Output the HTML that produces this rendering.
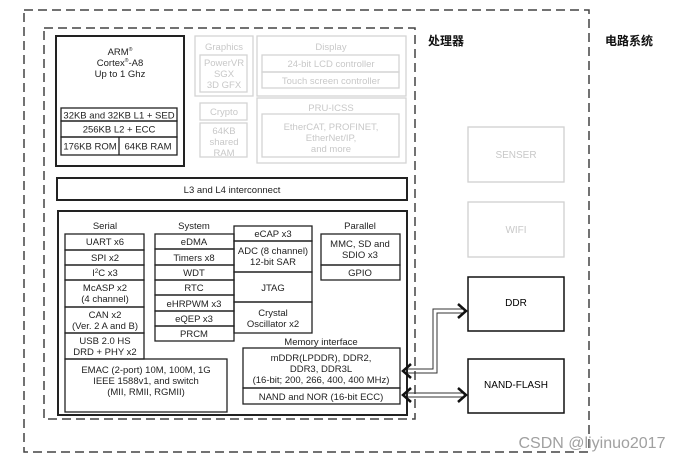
<!DOCTYPE html>
<html><head><meta charset="utf-8"><style>
html,body{margin:0;padding:0;background:#fff;width:692px;height:462px;overflow:hidden}
svg{display:block}
text{font-family:"Liberation Sans",Arial,sans-serif;font-size:9.5px;fill:#222;text-anchor:middle}
.g{fill:#c8c8c8}
.cn{font-family:"Liberation Sans","Noto Sans CJK SC",sans-serif;font-weight:bold;font-size:12px;text-anchor:start;fill:#111}
</style></head><body>
<svg width="692" height="462" viewBox="0 0 692 462" xmlns="http://www.w3.org/2000/svg">
<g fill="none" stroke="#444" stroke-width="1.5" stroke-dasharray="9,5">
<rect x="24" y="10" width="565" height="442"/>
<rect x="44" y="28" width="371" height="391"/>
</g>
<text class="cn" x="428" y="45">处理器</text>
<text class="cn" x="605" y="45">电路系统</text>

<g fill="none" stroke="#222" stroke-width="2">
<rect x="56" y="36" width="128" height="130"/>
<rect x="57" y="178" width="350" height="22"/>
<rect x="58" y="211" width="349" height="204"/>
</g>
<text x="120" y="55">ARM<tspan font-size="5" dy="-4">®</tspan></text>
<text x="120" y="66">Cortex<tspan font-size="5" dy="-4">®</tspan><tspan dy="4">-A8</tspan></text>
<text x="120" y="77">Up to 1 Ghz</text>
<g fill="none" stroke="#222" stroke-width="1.3">
<rect x="61" y="108" width="116" height="13"/>
<rect x="61" y="121" width="116" height="16"/>
<rect x="61" y="137" width="116" height="18"/>
<line x1="119" y1="137" x2="119" y2="155"/>
</g>
<text x="119" y="118.5">32KB and 32KB L1 + SED</text>
<text x="119" y="132.5">256KB L2  + ECC</text>
<text x="90" y="149.5">176KB ROM</text>
<text x="148" y="149.5">64KB RAM</text>

<g fill="none" stroke="#d4d4d4" stroke-width="1.3">
<rect x="195" y="36" width="58" height="60"/>
<rect x="200" y="55" width="47" height="37"/>
<rect x="257" y="36" width="149" height="60"/>
<rect x="262" y="55" width="137" height="17"/>
<rect x="262" y="72" width="137" height="16"/>
<rect x="200" y="103" width="47" height="17"/>
<rect x="200" y="123" width="47" height="34"/>
<rect x="257" y="98" width="149" height="65"/>
<rect x="262" y="114" width="137" height="43"/>
</g>
<g class="g">
<text class="g" x="224" y="50">Graphics</text>
<text class="g" x="224" y="66">PowerVR</text>
<text class="g" x="224" y="77">SGX</text>
<text class="g" x="224" y="88">3D GFX</text>
<text class="g" x="331" y="50">Display</text>
<text class="g" x="331" y="67">24-bit LCD controller</text>
<text class="g" x="331" y="84">Touch screen controller</text>
<text class="g" x="224" y="115">Crypto</text>
<text class="g" x="224" y="134">64KB</text>
<text class="g" x="224" y="145">shared</text>
<text class="g" x="224" y="156">RAM</text>
<text class="g" x="331" y="111">PRU-ICSS</text>
<text class="g" x="331" y="130">EtherCAT, PROFINET,</text>
<text class="g" x="331" y="141">EtherNet/IP,</text>
<text class="g" x="331" y="152">and more</text>
</g>
<text x="232" y="193">L3 and L4 interconnect</text>

<text x="105" y="229">Serial</text>
<text x="194" y="229">System</text>
<text x="360" y="229">Parallel</text>
<text x="321" y="345">Memory interface</text>
<g fill="none" stroke="#222" stroke-width="1.3">
<rect x="65" y="234" width="79" height="16"/>
<rect x="65" y="250" width="79" height="15"/>
<rect x="65" y="265" width="79" height="15"/>
<rect x="65" y="280" width="79" height="27"/>
<rect x="65" y="307" width="79" height="26"/>
<rect x="65" y="333" width="79" height="26"/>
<rect x="65" y="359" width="162" height="53"/>
<rect x="155" y="234" width="79" height="15"/>
<rect x="155" y="249" width="79" height="16"/>
<rect x="155" y="265" width="79" height="15"/>
<rect x="155" y="280" width="79" height="15"/>
<rect x="155" y="295" width="79" height="16"/>
<rect x="155" y="311" width="79" height="15"/>
<rect x="155" y="326" width="79" height="15"/>
<rect x="234" y="226" width="78" height="15"/>
<rect x="234" y="241" width="78" height="31"/>
<rect x="234" y="272" width="78" height="30"/>
<rect x="234" y="302" width="78" height="31"/>
<rect x="321" y="234" width="79" height="31"/>
<rect x="321" y="265" width="79" height="15"/>
<rect x="243" y="348" width="157" height="40"/>
<rect x="243" y="388" width="157" height="16"/>
</g>
<text x="105" y="245">UART x6</text>
<text x="105" y="261">SPI x2</text>
<text x="105" y="276">I<tspan font-size="6" dy="-3">2</tspan><tspan dy="3">C x3</tspan></text>
<text x="105" y="291">McASP x2</text>
<text x="105" y="302">(4 channel)</text>
<text x="105" y="318">CAN x2</text>
<text x="105" y="329">(Ver. 2 A and B)</text>
<text x="105" y="344">USB 2.0 HS</text>
<text x="105" y="355">DRD + PHY x2</text>
<text x="146" y="373">EMAC (2-port) 10M, 100M, 1G</text>
<text x="146" y="384">IEEE 1588v1, and switch</text>
<text x="146" y="395">(MII, RMII, RGMII)</text>
<text x="194" y="245">eDMA</text>
<text x="194" y="261">Timers x8</text>
<text x="194" y="276">WDT</text>
<text x="194" y="291">RTC</text>
<text x="194" y="307">eHRPWM x3</text>
<text x="194" y="322">eQEP x3</text>
<text x="194" y="337">PRCM</text>
<text x="273" y="237">eCAP x3</text>
<text x="273" y="254">ADC (8 channel)</text>
<text x="273" y="265">12-bit SAR</text>
<text x="273" y="291">JTAG</text>
<text x="273" y="316">Crystal</text>
<text x="273" y="327">Oscillator x2</text>
<text x="360" y="247">MMC, SD and</text>
<text x="360" y="258">SDIO x3</text>
<text x="360" y="276">GPIO</text>
<text x="321" y="361">mDDR(LPDDR), DDR2,</text>
<text x="321" y="372">DDR3, DDR3L</text>
<text x="321" y="383">(16-bit; 200, 266, 400, 400 MHz)</text>
<text x="321" y="400">NAND and NOR (16-bit ECC)</text>

<g fill="none" stroke="#d0d0d0" stroke-width="1.3">
<rect x="468" y="127" width="96" height="55"/>
<rect x="468" y="202" width="96" height="55"/>
</g>
<text class="g" x="516" y="158" style="font-size:10px">SENSER</text>
<text class="g" x="516" y="233" style="font-size:10px">WIFI</text>
<g fill="none" stroke="#111" stroke-width="1.5">
<rect x="468" y="277" width="96" height="54"/>
<rect x="468" y="359" width="96" height="54"/>
</g>
<text x="516" y="306" style="font-size:10px;fill:#000">DDR</text>
<text x="516" y="388" style="font-size:10px;fill:#000">NAND-FLASH</text>

<g fill="none" stroke="#333" stroke-width="1">
<polyline points="463,309 433,309 433,369 405,369"/>
<polyline points="463,313 437,313 437,373 405,373"/>
<line x1="405" y1="393" x2="463" y2="393"/>
<line x1="405" y1="397" x2="463" y2="397"/>
</g>
<g fill="none" stroke="#111" stroke-width="2.5">
<polyline points="458,304 466,311 458,318"/>
<polyline points="411,364 403,371 411,378"/>
<polyline points="411,388 403,395 411,402"/>
<polyline points="458,388 466,395 458,402"/>
</g>
<text x="592" y="448" style="font-size:16px;fill:#a0a0a0">CSDN @liyinuo2017</text>
</svg>
</body></html>
